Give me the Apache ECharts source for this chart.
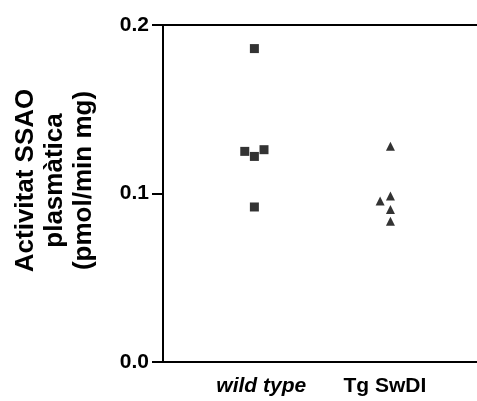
<!DOCTYPE html>
<html>
<head>
<meta charset="utf-8">
<script src="https://cdn.jsdelivr.net/npm/echarts@6/dist/echarts.min.js"></script>
<style>
  html, body { margin: 0; padding: 0; background: #fff; }
  #chart { width: 477px; height: 401px; }
</style>
</head>
<body>
<div id="chart"></div>
<script>
// grups i posicions de les etiquetes
const groups = ["wild type", "Tg SwDI"];
const groupLabelPos = [1.05, 1.95];

// wild type (quadrats)
const wtX = [1, 0.93, 1, 1.07, 1];
const wtY = [0.186, 0.125, 0.122, 0.126, 0.092];

// Tg SwDI (triangles)
const tgX = [1.99, 1.99, 1.915, 1.99, 1.99];
const tgY = [0.128, 0.0985, 0.0955, 0.0905, 0.0835];

const font = 'Arial, "Liberation Sans", sans-serif';

const chart = echarts.init(document.getElementById("chart"));

function zip(xs, ys) {
  return xs.map((x, i) => [x, ys[i]]);
}

const option = {
  animation: false,
  grid: { left: 163, right: 0, top: 25, bottom: 39 },
  xAxis: [
    {
      type: "value",
      min: 0.335,
      max: 2.62,
      position: "bottom",
      splitLine: { show: false },
      axisLine: { show: true, lineStyle: { color: "#000", width: 2 } },
      axisTick: { show: false },
      axisLabel: {
        customValues: groupLabelPos,
        margin: 14,
        fontFamily: font,
        fontSize: 21,
        fontWeight: "bold",
        color: "#000",
        formatter: (v) => {
          const i = groupLabelPos.indexOf(v);
          if (i === 0) return "{it|" + groups[0] + "}";
          return i >= 0 ? groups[i] : "";
        },
        rich: {
          it: { fontStyle: "italic", fontWeight: "bold", fontSize: 21, fontFamily: font, color: "#000" },
        },
      },
    },
    {
      type: "value",
      min: 0.335,
      max: 2.62,
      position: "top",
      splitLine: { show: false },
      axisLine: { show: true, onZero: false, lineStyle: { color: "#000", width: 2 } },
      axisTick: { show: false },
      axisLabel: { show: false },
    },
  ],
  yAxis: {
    type: "value",
    min: 0,
    max: 0.2,
    interval: 0.1,
    splitLine: { show: false },
    axisLine: { show: true, lineStyle: { color: "#000", width: 2 } },
    axisTick: { show: true, length: 11, lineStyle: { color: "#000", width: 2 } },
    axisLabel: {
      margin: 14,
      fontFamily: font,
      fontSize: 21,
      fontWeight: "bold",
      color: "#000",
      formatter: (v) => v.toFixed(1),
    },
    name: "Activitat SSAO\nplasmàtica\n(pmol/min mg)",
    nameLocation: "middle",
    nameRotate: 90,
    nameGap: 65,
    nameTextStyle: {
      fontFamily: font,
      fontSize: 26,
      fontWeight: "bold",
      color: "#000",
      lineHeight: 29,
      padding: [0, 0, 0, 26],
    },
  },
  series: [
    {
      name: groups[0],
      type: "scatter",
      symbol: "rect",
      symbolSize: 9,
      itemStyle: { color: "#000" },
      data: zip(wtX, wtY),
    },
    {
      name: groups[1],
      type: "scatter",
      symbol: "triangle",
      symbolSize: [9, 9],
      itemStyle: { color: "#000" },
      data: zip(tgX, tgY),
    },
  ],
};

chart.setOption(option);
</script>
</body>
</html>
